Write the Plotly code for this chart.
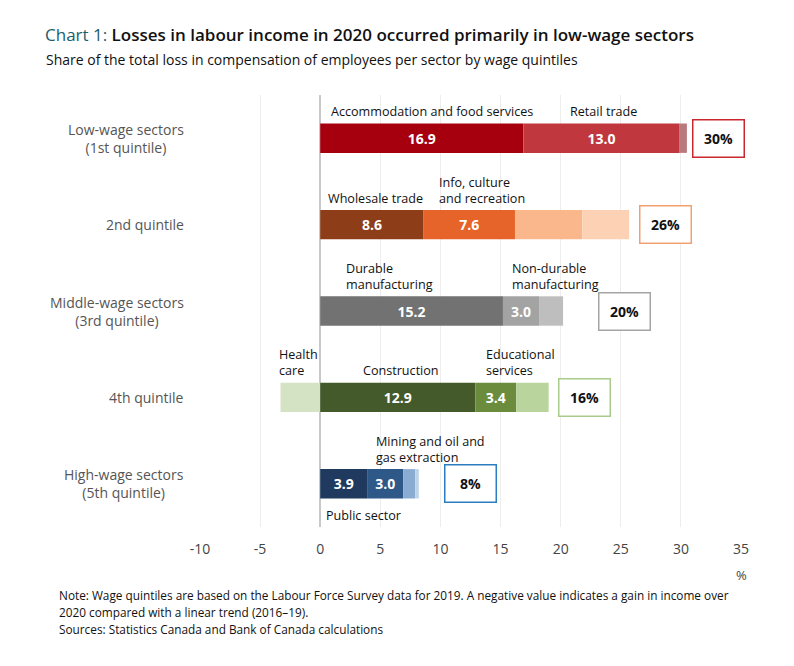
import plotly.graph_objects as go

# ---------------- data ----------------
rows = ["Q1", "Q2", "Q3", "Q4", "Q5"]
row_labels = ["Low-wage sectors<br>(1st quintile)", "2nd quintile",
              "Middle-wage sectors<br>(3rd quintile)", "4th quintile",
              "High-wage sectors<br>(5th quintile)"]
totals = ["30%", "26%", "20%", "16%", "8%"]

q1_sectors = ["Accommodation and food services", "Retail trade", "Other"]
q1_values = [16.9, 13.0, 0.6]
q2_sectors = ["Wholesale trade", "Info, culture<br>and recreation", "Other A", "Other B"]
q2_values = [8.6, 7.6, 5.6, 3.9]
q3_sectors = ["Durable<br>manufacturing", "Non-durable<br>manufacturing", "Other"]
q3_values = [15.2, 3.0, 2.0]
q4_sectors = ["Health<br>care", "Construction", "Educational<br>services", "Other"]
q4_values = [-3.3, 12.9, 3.4, 2.7]
q5_sectors = ["Public sector", "Mining and oil and<br>gas extraction", "Other A", "Other B"]
q5_values = [3.9, 3.0, 1.0, 0.3]

x_ticks = [-10, -5, 0, 5, 10, 15, 20, 25, 30, 35]

note_lines = [
    "Note: Wage quintiles are based on the Labour Force Survey data for 2019. "
    "A negative value indicates a gain in income over",
    "2020 compared with a linear trend (2016\u201319).",
    "Sources: Statistics Canada and Bank of Canada calculations",
]

# ---------------- styles / layout ----------------
FONT = "Open Sans"
OFF = 8                      # page body margin
W, H = 794 - OFF, 666 - OFF
PL, PR, PT, PB = 200, 741, 95, 527   # plot area in page pixels

def px_x(px):
    return (px - PL) / (PR - PL)

def px_y(py):
    return (PB - py) / (PB - PT)

row_colors = [
    ["#A6000F", "#C0383E", "#B97A7E"],
    ["#8D3E19", "#E6642A", "#FAB78C", "#FDD2B4"],
    ["#727272", "#A3A3A3", "#BEBEBE"],
    ["#D3E3C3", "#455A2A", "#6A8C3C", "#BAD49D"],
    ["#1F3A5E", "#2D5887", "#8AABD2", "#BDD3EA"],
]
show_value = [
    [True, True, False],
    [True, True, False, False],
    [True, True, False],
    [False, True, True, False],
    [True, True, False, False],
]
box_colors = ["#C8282E", "#F2A071", "#A5A5A5", "#A9CB8C", "#2A7DC0"]
box_x = [33.1, 28.7, 25.3, 22.0, 12.5]

label_pos = [
    [(9.3, "center", "above"), (23.6, "center", "above"), None],
    [(4.57, "center", "above"), (9.7, "left", "above"), None, None],
    [(2.0, "left", "above"), (15.8, "left", "above"), None],
    [(-3.6, "left", "above"), (6.73, "center", "above"), (13.6, "left", "above"), None],
    [(0.35, "left", "below"), (4.45, "left", "above"), None, None],
]

all_sectors = [q1_sectors, q2_sectors, q3_sectors, q4_sectors, q5_sectors]
all_values = [q1_values, q2_values, q3_values, q4_values, q5_values]

fig = go.Figure()
annotations = []

for r, (row, sectors, values) in enumerate(zip(rows, all_sectors, all_values)):
    for s, (name, val) in enumerate(zip(sectors, values)):
        fig.add_trace(go.Bar(
            y=[row], x=[val], orientation="h", name=name,
            marker=dict(color=row_colors[r][s], line=dict(width=0)),
            width=0.34,
            text=[f"{val:.1f}"] if show_value[r][s] else None,
            textposition="inside", insidetextanchor="middle",
            textangle=0, constraintext="none",
            textfont=dict(family=FONT, size=14, color="white", weight="bold"),
            showlegend=False, hoverinfo="skip",
        ))
        lp = label_pos[r][s]
        if lp is not None:
            lx, anchor, where = lp
            annotations.append(dict(
                x=lx, y=row, xref="x", yref="y", text=name, showarrow=False,
                xanchor=anchor, align="left" if anchor == "left" else "center",
                yanchor="bottom" if where == "above" else "top",
                yshift=16 if where == "above" else -21,
                font=dict(family=FONT, size=12.6, color="#111111"),
            ))
    annotations.append(dict(
        x=box_x[r], y=row, xref="x", yref="y", text=f"<b>{totals[r]}</b>",
        showarrow=False, xanchor="center", yanchor="middle",
        width=46, height=32, borderpad=2, borderwidth=1.5,
        bordercolor=box_colors[r], bgcolor="white",
        font=dict(family=FONT, size=14, color="#111111"),
    ))
    annotations.append(dict(
        x=px_x(186), y=row, xref="paper", yref="y", text=row_labels[r],
        showarrow=False, xanchor="right", yanchor="middle", align="center",
        font=dict(family=FONT, size=14, color="#555555"),
    ))

annotations.append(dict(
    x=px_x(44), y=px_y(60), xref="paper", yref="paper",
    text="Share of the total loss in compensation of employees per sector by wage quintiles",
    showarrow=False, xanchor="left", yanchor="middle",
    font=dict(family=FONT, size=14, color="#111111"),
))
annotations.append(dict(
    x=1.0, y=px_y(575), xref="paper", yref="paper", text="%",
    showarrow=False, xanchor="center", yanchor="middle",
    font=dict(family=FONT, size=13, color="#444444"),
))
for line, py in zip(note_lines, [595, 612, 629]):
    annotations.append(dict(
        x=px_x(57), y=px_y(py), xref="paper", yref="paper", text=line,
        showarrow=False, xanchor="left", yanchor="middle", align="left",
        font=dict(family=FONT, size=11.8, color="#111111"),
    ))

fig.update_layout(
    width=W, height=H,
    margin=dict(l=PL - OFF, r=794 - PR, t=PT - OFF, b=666 - PB),
    paper_bgcolor="white", plot_bgcolor="white",
    barmode="relative", bargap=0.66,
    title=dict(
        text="<span style='color:#1C5D6B;font-weight:400'>Chart 1:</span> Losses in labour income in 2020 occurred primarily in low-wage sectors",
        x=(45 - OFF) / W, xanchor="left", y=1 - (35 - OFF) / H, yanchor="middle",
        font=dict(family=FONT, size=17, color="#111111", weight=600),
    ),
    xaxis=dict(
        range=[-10, 35], tickvals=x_ticks, ticktext=[str(t) for t in x_ticks],
        showgrid=True, gridcolor="#EDEDED", gridwidth=1,
        zeroline=True, zerolinecolor="#C8C8C8", zerolinewidth=1.5,
        ticks="outside", ticklen=9, tickcolor="rgba(0,0,0,0)",
        tickfont=dict(family=FONT, size=14, color="#444444"),
        showline=False, fixedrange=True, automargin=False,
    ),
    yaxis=dict(
        type="category", categoryorder="array", categoryarray=rows,
        range=[len(rows) - 0.5, -0.5], autorange=False,
        showticklabels=False, showgrid=False, zeroline=False, showline=False,
        fixedrange=True, automargin=False,
    ),
    annotations=annotations,
)

fig.write_html("out.html")
